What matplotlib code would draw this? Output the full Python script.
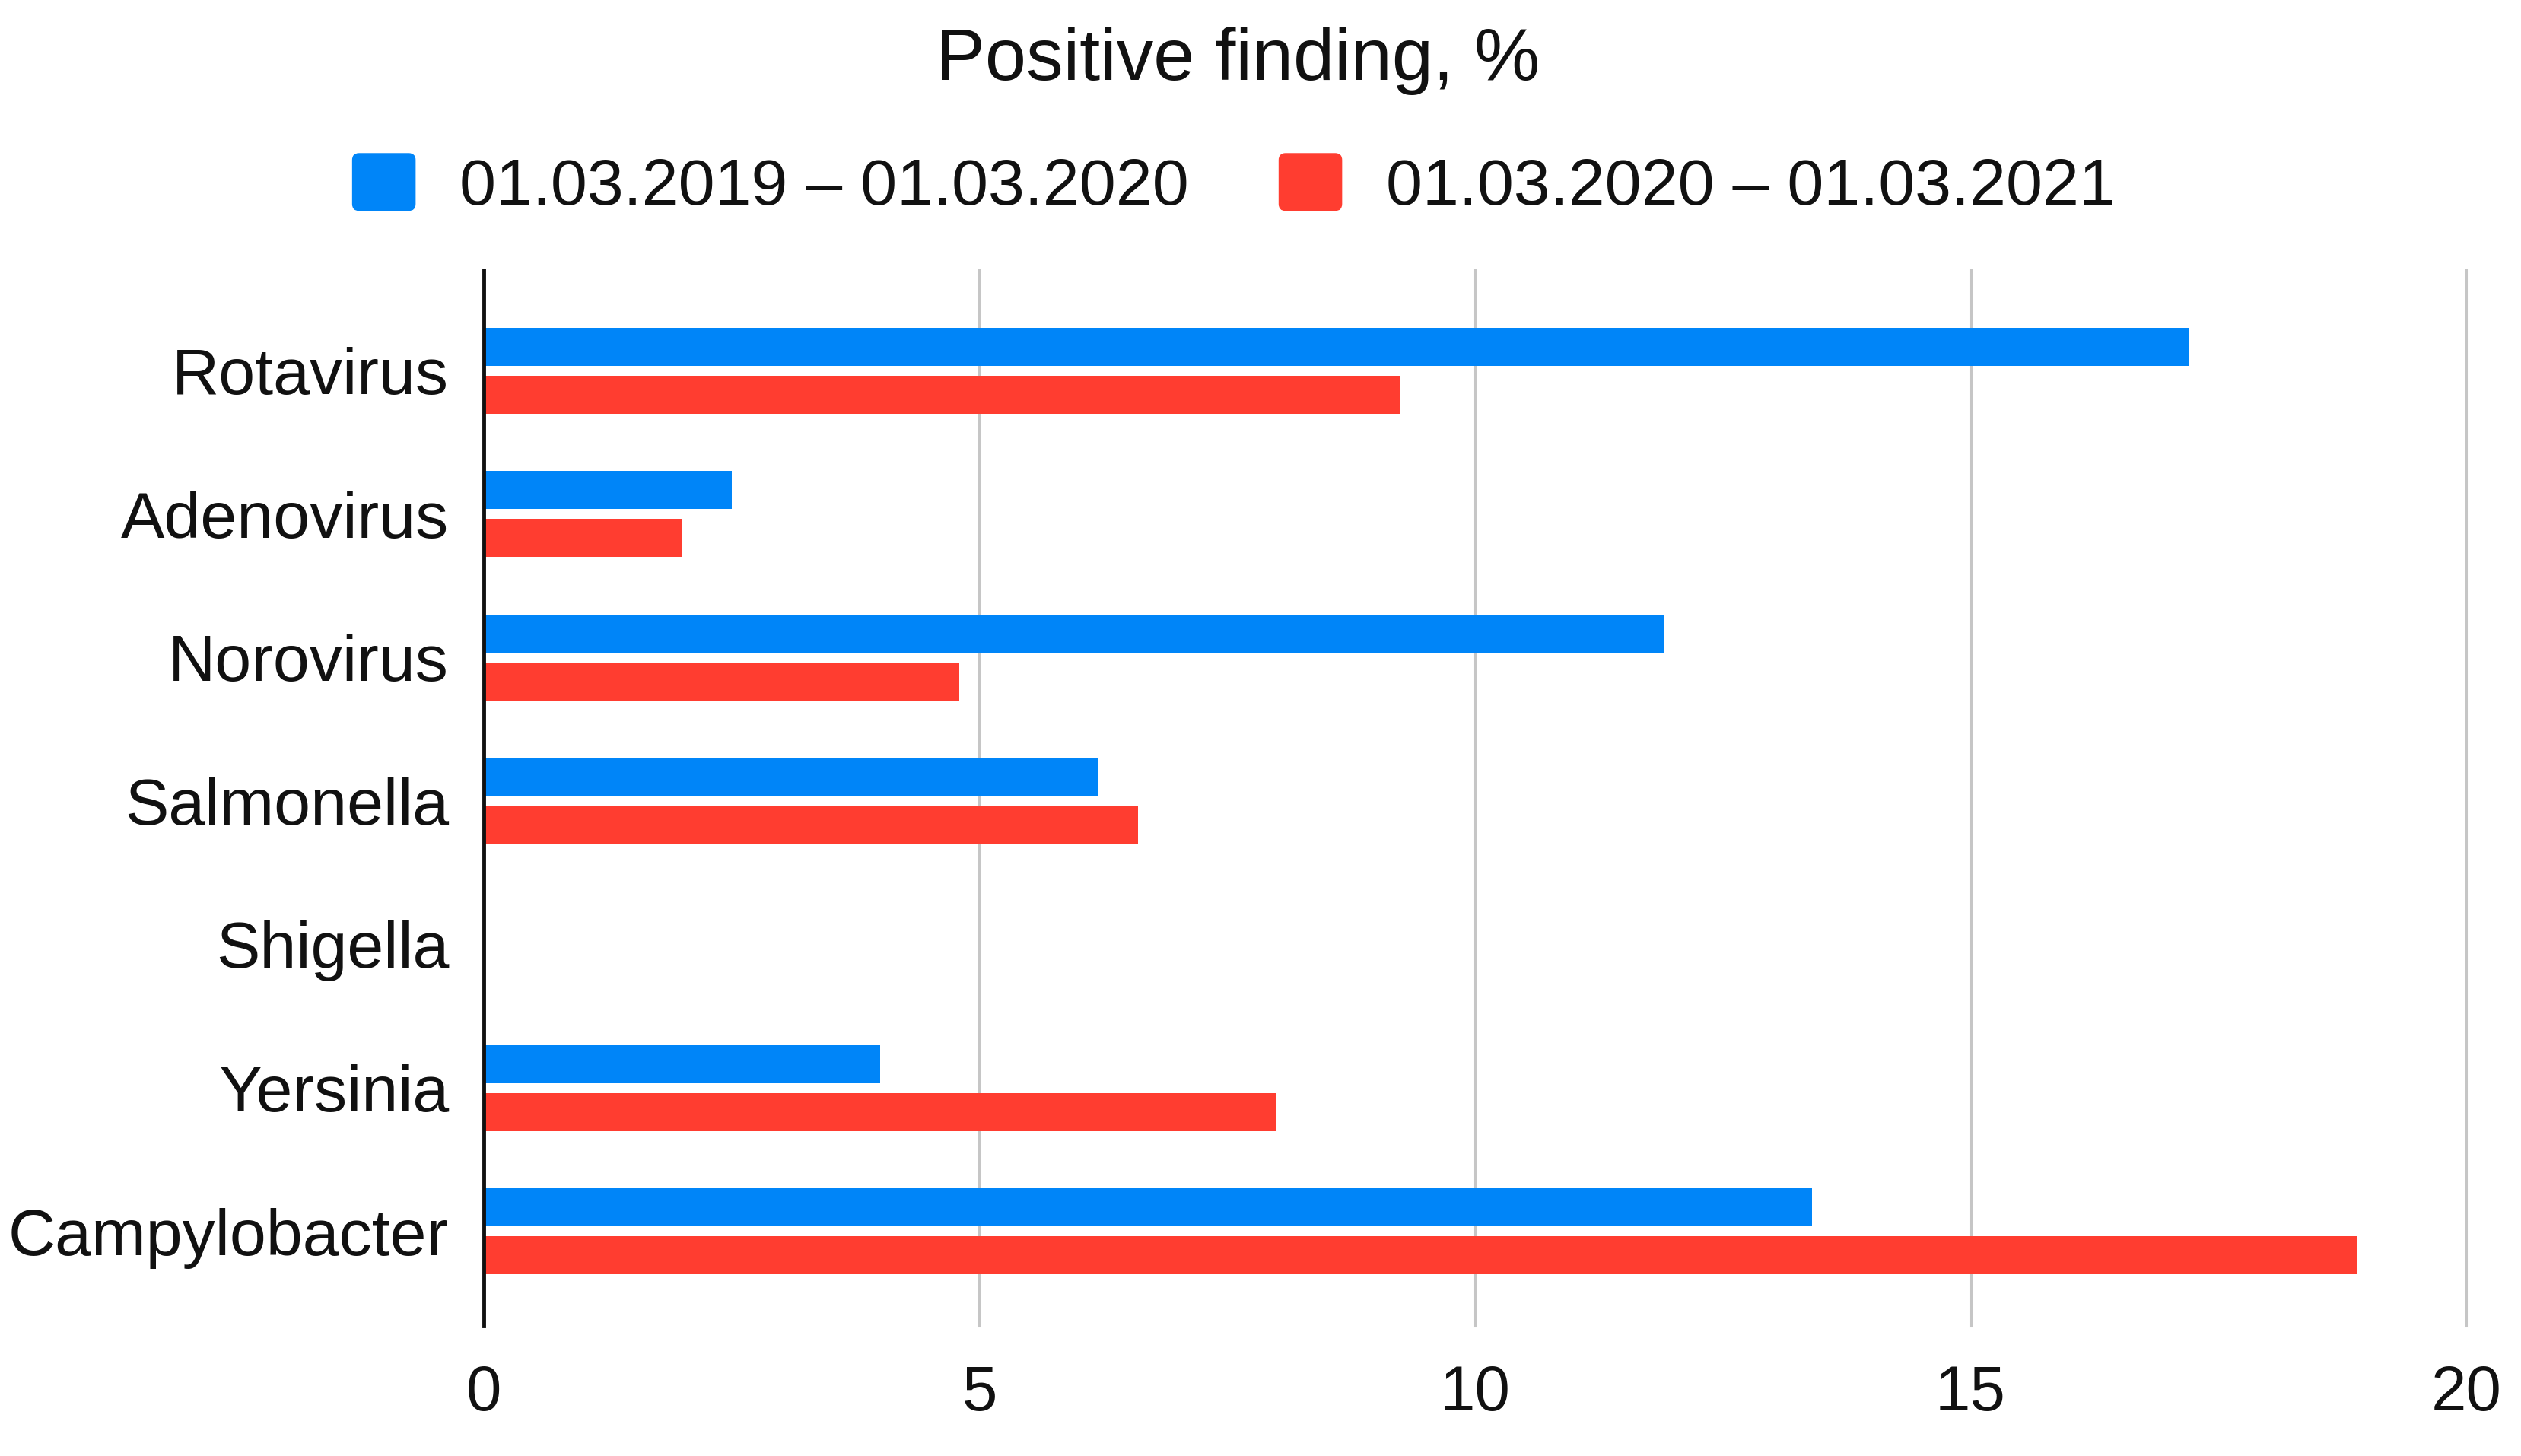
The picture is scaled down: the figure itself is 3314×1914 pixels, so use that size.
import numpy as np
import matplotlib
matplotlib.use("Agg")
import matplotlib.pyplot as plt
from matplotlib.patches import Patch, FancyBboxPatch
from matplotlib.legend_handler import HandlerPatch

# === Data ===
categories = ['Rotavirus', 'Adenovirus', 'Norovirus', 'Salmonella',
              'Shigella', 'Yersinia', 'Campylobacter']
period_2019 = [17.2, 2.5, 11.9, 6.2, 0.0, 4.0, 13.4]
period_2020 = [9.25, 2.0, 4.8, 6.6, 0.0, 8.0, 18.9]
series_labels = ['01.03.2019 – 01.03.2020', '01.03.2020 – 01.03.2021']
x_ticks = [0, 5, 10, 15, 20]

BLUE = '#0085f8'
RED = '#ff3d30'

plt.rcParams['font.family'] = ['Liberation Sans', 'DejaVu Sans']


class RoundedSwatch(HandlerPatch):
    def create_artists(self, legend, orig_handle, xdescent, ydescent,
                       width, height, fontsize, trans):
        box = FancyBboxPatch((-xdescent, -ydescent), width, height,
                             boxstyle="round,pad=0,rounding_size=%f" % (height * 0.12),
                             facecolor=orig_handle.get_facecolor(),
                             edgecolor='none', transform=trans)
        return [box]


fig = plt.figure(figsize=(33.14, 19.14), dpi=100)
ax = fig.add_axes([0.1919, 0.0893, 0.7864, 0.7252])

y = np.arange(len(categories))
bar_h = 0.265
off = 0.167
ax.barh(y - off, period_2019, height=bar_h, color=BLUE, zorder=3)
ax.barh(y + off, period_2020, height=bar_h, color=RED, zorder=3)

ax.set_xlim(0, 20)
ax.set_ylim(6.66, -0.70)
ax.set_xticks(x_ticks)
ax.set_xticklabels([str(t) for t in x_ticks])
ax.set_yticks(y)
ax.set_yticklabels(categories)
ax.tick_params(axis='both', length=0, labelcolor='#111111')
ax.tick_params(axis='x', labelsize=60, pad=36)
ax.tick_params(axis='y', labelsize=62, pad=33)

ax.grid(axis='x', color='#c6c6c6', linewidth=2.2, zorder=0)
ax.set_axisbelow(True)
for gl in ax.xaxis.get_gridlines():
    gl.set_clip_on(False)
for side in ['top', 'right', 'bottom']:
    ax.spines[side].set_visible(False)
ax.spines['left'].set_linewidth(3.5)
ax.spines['left'].set_color('#111111')
ax.spines['left'].set_zorder(4)

fig.text(0.491, 0.958, 'Positive finding, %', ha='center', va='center',
         fontsize=70, color='#111111')

handles = [Patch(facecolor=BLUE, label=series_labels[0]),
           Patch(facecolor=RED, label=series_labels[1])]
fig.legend(handles=handles, loc='center', bbox_to_anchor=(0.4894, 0.8725),
           ncol=2, frameon=False, fontsize=62, handlelength=0.97,
           handleheight=0.98, handletextpad=0.67, columnspacing=1.37,
           borderpad=0, labelcolor='#111111',
           handler_map={Patch: RoundedSwatch()})

fig.savefig('out.png', dpi=100)
